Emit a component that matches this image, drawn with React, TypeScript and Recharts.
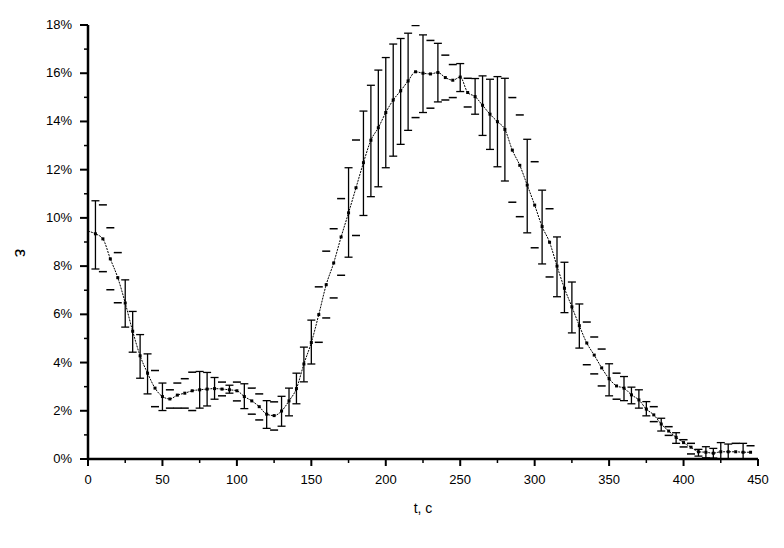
import { ComposedChart, Line, Scatter, ErrorBar, XAxis, YAxis, Label } from 'recharts'

// time, s
const times = [
  0, 5, 10, 15, 20, 25, 30, 35, 40, 45, 50, 55, 60, 65, 70, 75, 80, 85, 90, 95,
  100, 105, 110, 115, 120, 125, 130, 135, 140, 145, 150, 155, 160, 165, 170, 175, 180, 185, 190, 195,
  200, 205, 210, 215, 220, 225, 230, 235, 240, 245, 250, 255, 260, 265, 270, 275, 280, 285, 290, 295,
  300, 305, 310, 315, 320, 325, 330, 335, 340, 345, 350, 355, 360, 365, 370, 375, 380, 385, 390, 395,
  400, 405, 410, 415, 420, 425, 430, 435, 440, 445,
]

// mean strain, %
const strain = [
  9.45, 9.34, 9.13, 8.3, 7.52, 6.47, 5.3, 4.28, 3.56, 2.94, 2.59, 2.49, 2.65, 2.73, 2.83, 2.87, 2.9, 2.92, 2.9, 2.87,
  2.83, 2.59, 2.41, 2.17, 1.86, 1.8, 1.99, 2.41, 2.92, 3.94, 4.83, 5.99, 7.23, 8.13, 9.21, 10.21, 11.25, 12.29, 13.22, 13.74,
  14.37, 14.89, 15.27, 15.68, 16.06, 16.0, 15.97, 16.03, 15.82, 15.71, 15.84, 15.2, 15.03, 14.67, 14.3, 13.99, 13.67, 12.81, 12.18, 11.36,
  10.53, 9.64, 8.99, 8.0, 7.08, 6.31, 5.53, 4.81, 4.31, 3.78, 3.33, 3.03, 2.94, 2.66, 2.45, 2.07, 1.83, 1.45, 1.16, 0.9,
  0.68, 0.49, 0.3, 0.28, 0.24, 0.3, 0.3, 0.3, 0.28, 0.28,
]

// lower / upper error limits, %
const lower = [
  null, 7.88, 7.77, 7.02, 6.48, 5.47, 4.43, 3.35, 2.7, 2.17, 2.01, 2.11, 2.11, 2.11, 2.01, 2.11, 2.2, 2.48, 2.62, 2.73,
  2.41, 2.09, 1.86, 1.62, 1.27, 1.2, 1.36, 1.79, 2.29, 3.2, 3.94, 4.84, 5.85, 6.68, 7.62, 8.37, 9.27, 10.1, 10.88, 11.29,
  12.08, 12.56, 13.05, 13.63, 14.16, 14.37, 14.55, 14.81, 14.89, 14.99, 15.24, 14.6, 14.3, 13.42, 12.84, 12.12, 11.53, 10.65, 10.05, 9.38,
  8.76, 8.09, 7.55, 6.73, 6.07, 5.23, 4.6, 3.91, 3.53, 3.03, 2.62, 2.48, 2.42, 2.29, 2.11, 1.79, 1.55, 1.16, 0.98, 0.65,
  0.5, 0.21, 0.12, 0.05, 0.04, 0.0, 0.0, 0.0, 0.0, 0.0,
]
const upper = [
  null, 10.71, 10.54, 9.59, 8.56, 7.43, 6.12, 5.16, 4.36, 3.67, 3.15, 2.87, 3.15, 3.33, 3.6, 3.63, 3.59, 3.38, 3.19, 3.06,
  3.19, 3.12, 2.94, 2.7, 2.42, 2.37, 2.6, 2.94, 3.56, 4.64, 5.76, 7.14, 8.62, 9.55, 10.8, 12.08, 13.23, 14.43, 15.5, 16.13,
  16.65, 17.21, 17.44, 17.66, 17.98, 17.59, 17.36, 17.24, 16.75, 16.36, 16.4, 15.79, 15.78, 15.89, 15.75, 15.86, 15.79, 14.99, 14.27, 13.26,
  12.33, 11.15, 10.38, 9.21, 8.16, 7.34, 6.43, 5.68, 5.06, 4.56, 3.95, 3.56, 3.42, 2.98, 2.87, 2.38, 2.17, 1.69, 1.34, 1.09,
  0.8, 0.65, 0.4, 0.51, 0.44, 0.68, 0.62, 0.65, 0.65, 0.55,
]

// points whose error bar stem is visible (the rest show only the caps)
const withStem = [
  5, 25, 30, 35, 40, 50, 75, 80, 85, 95, 105, 120, 130, 135, 140, 145, 150, 175, 185, 190, 195,
  200, 205, 210, 215, 225, 235, 250, 260, 265, 270, 275, 280, 295, 305, 315, 320, 325, 330,
  350, 360, 365, 370, 375, 385, 395, 410, 415, 420, 425, 430, 440,
]

const xTicks = [0, 25, 50, 75, 100, 125, 150, 175, 200, 225, 250, 275, 300, 325, 350, 375, 400, 425, 450]
const yTicks = [0, 1, 2, 3, 4, 5, 6, 7, 8, 9, 10, 11, 12, 13, 14, 15, 16, 17, 18]

const rows = times.map((t, i) => ({
  t,
  v: strain[i],
  lo: lower[i],
  hi: upper[i],
  err: lower[i] == null ? null : [strain[i] - lower[i], upper[i] - strain[i]],
}))
const stemRows = rows.filter((r) => withStem.includes(r.t))
const capRows = rows.filter((r) => r.lo != null && !withStem.includes(r.t))

const font = 'Liberation Sans, Arial, sans-serif'

const XTick = (props: any) => {
  const { x, y, payload } = props
  const major = payload.value % 50 === 0
  return (
    <g>
      <line x1={x} x2={x} y1={y} y2={y + (major ? 7 : 4)} stroke="#000" strokeWidth={major ? 2 : 1.5} />
      {major && (
        <text x={x} y={y + 24.5} textAnchor="middle" fontSize={13} fontFamily={font} fill="#000">
          {payload.value}
        </text>
      )}
    </g>
  )
}

const YTick = (props: any) => {
  const { x, y, payload } = props
  const major = payload.value % 2 === 0
  return (
    <g>
      <line x1={x - (major ? 8 : 4)} x2={x} y1={y} y2={y} stroke="#000" strokeWidth={major ? 2 : 1.5} />
      {major && (
        <text x={x - 16} y={y + 4} textAnchor="end" fontSize={13} fontFamily={font} fill="#000">
          {payload.value}%
        </text>
      )}
    </g>
  )
}

const Dash = (props: any) => {
  const { cx, cy } = props
  return <line x1={cx - 4} x2={cx + 4} y1={cy} y2={cy} stroke="#000" strokeWidth={1.5} />
}

const Nothing = () => <g />

const Square = (props: any) => {
  const { cx, cy, index } = props
  if (index === 0) return <g key={index} />
  return <rect key={index} x={cx - 1.5} y={cy - 1.5} width={3} height={3} fill="#000" />
}

// epsilon, turned on its side like in the original
const EpsLabel = (props: any) => {
  const { viewBox } = props
  const cx = viewBox.x + 21
  const cy = viewBox.y + viewBox.height / 2 + 11
  return (
    <g transform={`translate(${cx} ${cy}) rotate(90)`}>
      <text x={0} y={6} textAnchor="middle" fontSize={19} fontFamily={font} fill="#000">
        ε
      </text>
    </g>
  )
}

const TimeLabel = (props: any) => {
  const { viewBox } = props
  return (
    <text x={viewBox.x + viewBox.width / 2} y={viewBox.y + 54} textAnchor="middle" fontSize={14} fontFamily={font} fill="#000">
      t, c
    </text>
  )
}

export default function App() {
  return (
    <div style={{ position: 'absolute', left: 0, top: 0, background: '#fff' }}>
      <ComposedChart width={784} height={548} data={rows} margin={{ top: 25, right: 26, left: 0, bottom: 0 }}>
        <XAxis
          type="number"
          dataKey="t"
          domain={[0, 450]}
          ticks={xTicks}
          interval={0}
          tick={<XTick />}
          tickLine={false}
          tickSize={0}
          tickMargin={0}
          axisLine={{ stroke: '#000', strokeWidth: 2.5 }}
          height={89}
        >
          <Label content={<TimeLabel />} />
        </XAxis>
        <YAxis
          type="number"
          domain={[0, 18]}
          ticks={yTicks}
          interval={0}
          tick={<YTick />}
          tickLine={false}
          tickSize={0}
          tickMargin={0}
          axisLine={{ stroke: '#000', strokeWidth: 2.5 }}
          width={88}
          allowDataOverflow
        >
          <Label content={<EpsLabel />} />
        </YAxis>
        <Line
          type="monotone"
          dataKey="v"
          stroke="#000"
          strokeWidth={1}
          strokeDasharray="2 1"
          dot={<Square />}
          activeDot={false}
          isAnimationActive={false}
        />
        <Scatter data={stemRows} dataKey="v" shape={<Nothing />} isAnimationActive={false}>
          <ErrorBar dataKey="err" direction="y" width={4} stroke="#000" strokeWidth={1.3} />
        </Scatter>
        <Scatter data={capRows} dataKey="lo" shape={<Dash />} isAnimationActive={false} />
        <Scatter data={capRows} dataKey="hi" shape={<Dash />} isAnimationActive={false} />
      </ComposedChart>
    </div>
  )
}
